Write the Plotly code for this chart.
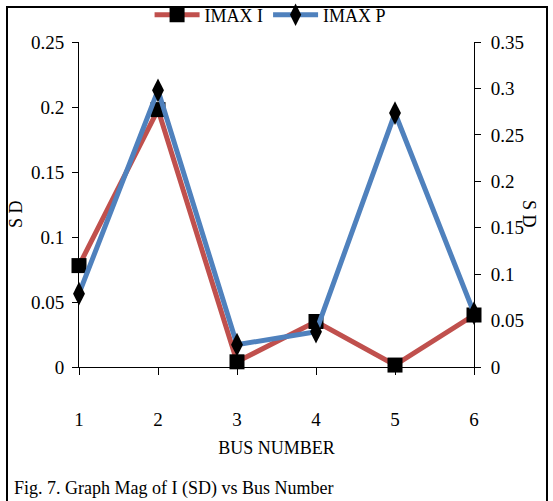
import plotly.graph_objects as go

# Bus numbers and standard deviation of current magnitude
bus = [1, 2, 3, 4, 5, 6]
imax_i = [0.078, 0.198, 0.004, 0.035, 0.0015, 0.040]   # left axis
imax_p = [0.079, 0.298, 0.024, 0.038, 0.2735, 0.058]   # right axis

left_ticks = [0, 0.05, 0.1, 0.15, 0.2, 0.25]
left_labels = ["0", "0.05", "0.1", "0.15", "0.2", "0.25"]
right_ticks = [0, 0.05, 0.1, 0.15, 0.2, 0.25, 0.3, 0.35]
right_labels = ["0", "0.05", "0.1", "0.15", "0.2", "0.25", "0.3", "0.35"]

FONT = "Liberation Serif"
RED = "#C0504D"
BLUE = "#4F81BD"

fig = go.Figure()
fig.add_trace(go.Scatter(
    x=bus, y=imax_i, name="IMAX I", mode="lines+markers",
    line=dict(color=RED, width=5),
    marker=dict(symbol="square", size=15, color="black"),
    cliponaxis=False, yaxis="y"))
fig.add_trace(go.Scatter(
    x=bus, y=imax_p, name="IMAX P", mode="lines+markers",
    line=dict(color=BLUE, width=5),
    marker=dict(symbol="diamond-tall", size=17, color="black"),
    cliponaxis=False, yaxis="y2"))

tick_font = dict(family=FONT, size=19, color="black")
title_font = dict(family=FONT, size=18, color="black")

fig.update_layout(
    width=553, height=501,
    margin=dict(l=79, r=79, t=42, b=134, autoexpand=False),
    paper_bgcolor="white", plot_bgcolor="white",
    font=dict(family=FONT, size=18, color="black"),
    showlegend=True,
    legend=dict(orientation="h", x=0.485, xanchor="center",
                y=(367 - 15) / 325, yanchor="middle",
                font=dict(family=FONT, size=18),
                itemwidth=45, bgcolor="rgba(0,0,0,0)", tracegroupgap=0),
    xaxis=dict(range=[1, 6], tickvals=bus, ticktext=[str(b) for b in bus],
               showline=True, linecolor="black", linewidth=1,
               ticks="outside", ticklen=7, tickcolor="black",
               showgrid=False, zeroline=False, tickfont=tick_font,
               ticklabelstandoff=28, automargin=False,
               title=dict(text="BUS NUMBER", font=title_font, standoff=12)),
    xaxis2=dict(range=[1, 6], overlaying="x", anchor="y", tickvals=bus,
                ticks="inside", ticklen=7, tickcolor="black",
                showticklabels=False, showline=False, showgrid=False,
                zeroline=False),
    yaxis=dict(range=[0, 0.25], tickvals=left_ticks, ticktext=left_labels,
               showline=True, linecolor="black", linewidth=1,
               ticks="outside", ticklen=6, tickcolor="black",
               showgrid=False, zeroline=False, tickfont=tick_font,
               ticklabelstandoff=4, automargin=False),
    yaxis2=dict(range=[0, 0.35], overlaying="y", side="right",
                tickvals=right_ticks, ticktext=right_labels,
                showline=True, linecolor="black", linewidth=1,
                ticks="outside", ticklen=6, tickcolor="black",
                showgrid=False, zeroline=False, tickfont=tick_font,
                ticklabelstandoff=6, automargin=False),
    yaxis3=dict(range=[0, 0.25], overlaying="y", tickvals=left_ticks,
                ticks="inside", ticklen=6, tickcolor="black",
                showticklabels=False, showline=False, showgrid=False,
                zeroline=False),
    yaxis4=dict(range=[0, 0.35], overlaying="y", side="right",
                tickvals=right_ticks, ticks="inside", ticklen=6,
                tickcolor="black", showticklabels=False, showline=False,
                showgrid=False, zeroline=False),
)

# Axis titles
fig.add_annotation(text="S D", xref="paper", yref="paper",
                   x=(16 - 79) / 395, y=(367 - 214) / 325,
                   xanchor="center", yanchor="middle",
                   textangle=-90, showarrow=False,
                   font=dict(family=FONT, size=18))
fig.add_annotation(text="S D", xref="paper", yref="paper",
                   x=(529 - 79) / 395, y=(367 - 214) / 325,
                   xanchor="center", yanchor="middle",
                   textangle=90, showarrow=False,
                   font=dict(family=FONT, size=18))

# Figure caption
fig.add_annotation(text="Fig. 7. Graph Mag of I (SD) vs Bus Number",
                   xref="paper", yref="paper",
                   x=(12 - 79) / 395, y=(367 - 488) / 325,
                   xanchor="left", yanchor="middle", showarrow=False,
                   font=dict(family=FONT, size=18))

# Outer frame
fig.add_shape(type="rect", xref="paper", yref="paper",
              x0=(7 - 79) / 395, x1=(547 - 79) / 395,
              y0=(367 - 520) / 325, y1=(367 - 7) / 325,
              line=dict(color="black", width=2), layer="below")

fig.write_html("out.html")
